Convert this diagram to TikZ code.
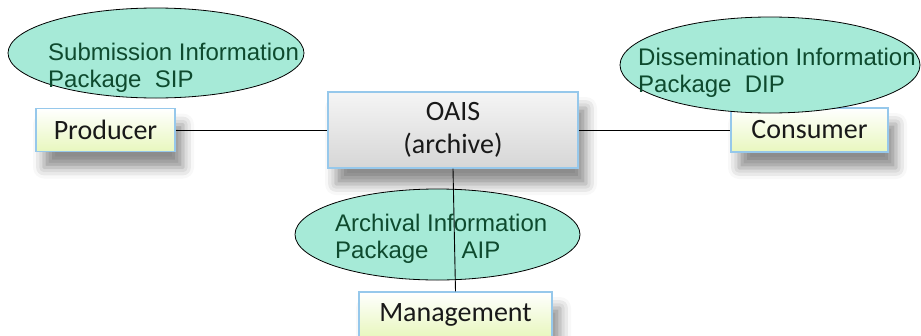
\documentclass[tikz,border=0pt]{standalone}
\usepackage{fontspec}
\setmainfont{Liberation Sans}
\newfontfamily\calibri{Carlito}
\usetikzlibrary{shapes.geometric,shadows.blur}
\definecolor{aqua}{RGB}{166,234,215}
\definecolor{darkgreen}{RGB}{14,74,46}
\definecolor{edgeblue}{RGB}{150,200,235}
\definecolor{paleyellow}{RGB}{232,247,190}
\tikzset{%
    entity/.style={%
        draw=edgeblue, line width=1.2pt, inner sep=0pt,
        top color=white, bottom color=paleyellow,
        font=\calibri\fontsize{28}{30}\selectfont, text=black!90,
        blur shadow={shadow xshift=8pt, shadow yshift=-16pt,
            shadow blur radius=11pt, shadow opacity=45}
    },
    package/.style={%
        ellipse, draw=black, line width=0.8pt, fill=aqua, inner sep=0pt
    },
    packtext/.style={%
        anchor=base west, align=left, inner sep=0pt, text=darkgreen,
        font=\fontsize{24}{27}\selectfont
    },
    link/.style={draw=black, line width=0.9pt}
}

\begin{document}
\begin{tikzpicture}[x=1pt,y=-1pt]
    \useasboundingbox (0,0) rectangle (921,335);
%-----------------------------------------------
    \node[entity, minimum width=139pt, minimum height=43pt] (producer) at (105.5,130) {Producer};
    \node[entity, minimum width=157pt, minimum height=44pt] (consumer) at (809.5,130) {Consumer};
    \node[entity, minimum width=193pt, minimum height=45pt] (mgmt) at (455.5,314.5) {Management};
    \node[entity, minimum width=250pt, minimum height=76pt, align=center,
        top color=gray!8, bottom color=gray!32,
        font=\calibri\fontsize{28}{33}\selectfont] (oais) at (453,130) {OAIS\\(archive)};
%-----------------------------------------------
    \draw[link] (producer.east) -- (oais.west);
    \draw[link] (oais.east) -- (consumer.west);
%-----------------------------------------------
    \node[package, minimum width=296pt, minimum height=90pt] (sip) at (156,53) {};
    \node[package, minimum width=300pt, minimum height=96pt] (dip) at (770,65) {};
    \node[package, minimum width=285pt, minimum height=91pt] (aip) at (437.5,234.5) {};
%-----------------------------------------------
    \draw[link] (oais.south) -- (mgmt.north);
%-----------------------------------------------
    \node[packtext] (siptext) at (48,87) {Submission Information\\Package\ \ SIP};
    \node[packtext] (diptext) at (638,92) {Dissemination Information\\Package\ \ DIP};
    \node[packtext] (aiptext) at (335,258) {Archival Information\\Package\hspace{33pt}AIP};
\end{tikzpicture}
\end{document}
